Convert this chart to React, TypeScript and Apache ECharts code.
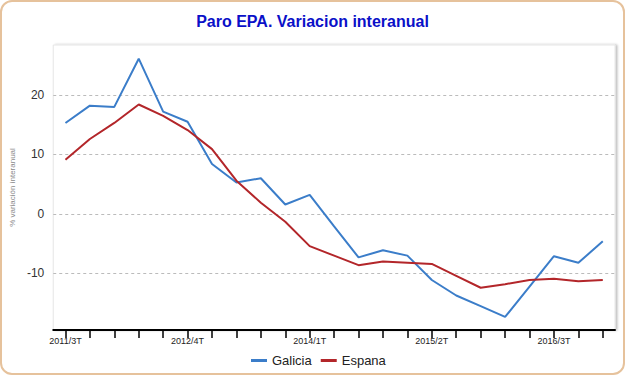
import React, { useEffect, useRef } from "react";
import * as echarts from "echarts";

const categories = [
  "2011/3T", "2011/4T", "2012/1T", "2012/2T", "2012/3T",
  "2012/4T", "2013/1T", "2013/2T", "2013/3T", "2013/4T",
  "2014/1T", "2014/2T", "2014/3T", "2014/4T", "2015/1T",
  "2015/2T", "2015/3T", "2015/4T", "2016/1T", "2016/2T",
  "2016/3T", "2016/4T", "2017/1T",
];

const galicia = [
  15.3, 18.2, 18.0, 26.1, 17.2, 15.5, 8.4, 5.3, 6.0, 1.6,
  3.2, -2.1, -7.3, -6.1, -7.0, -11.1, -13.7, -15.5, -17.3, -12.2,
  -7.1, -8.2, -4.6,
];

const espana = [
  9.1, 12.6, 15.3, 18.4, 16.5, 14.1, 10.9, 5.6, 1.9, -1.3,
  -5.4, -7.0, -8.6, -8.0, -8.2, -8.4, -10.4, -12.4, -11.8, -11.1,
  -10.9, -11.3, -11.1,
];

const seriesNames = ["Galicia", "Espana"];

export default function App() {
  const ref = useRef<HTMLDivElement>(null);

  useEffect(() => {
    if (!ref.current) return;
    const chart = echarts.init(ref.current, null, { renderer: "svg" });
    chart.setOption({
      animation: false,
      backgroundColor: "transparent",
      title: {
        text: "Paro EPA. Variacion interanual",
        left: "center",
        top: 8,
        textStyle: {
          color: "#0a10c8",
          fontSize: 16,
          fontWeight: "bold",
          fontFamily: "Liberation Sans, Arial, sans-serif",
        },
      },
      legend: {
        data: seriesNames,
        bottom: 3,
        left: 246,
        icon: "rect",
        itemWidth: 16,
        itemHeight: 3,
        itemGap: 9,
        textStyle: {
          fontSize: 13,
          color: "#222",
          fontFamily: "Liberation Sans, Arial, sans-serif",
        },
      },
      grid: {
        left: 52,
        right: 10,
        top: 45,
        bottom: 45,
        show: true,
        backgroundColor: "#fff",
        borderColor: "#e6e6e6",
        borderWidth: 1,
        shadowColor: "rgba(0,0,0,0.25)",
        shadowBlur: 2,
        shadowOffsetX: 2,
        shadowOffsetY: 0,
      },
      xAxis: {
        type: "category",
        data: categories,
        boundaryGap: true,
        axisLine: { show: true, onZero: false, lineStyle: { color: "#000", width: 2 } },
        axisTick: {
          show: true,
          alignWithLabel: true,
          interval: 0,
          length: 8,
          lineStyle: { color: "#000", width: 1.5 },
        },
        axisLabel: {
          interval: 4,
          fontSize: 9,
          color: "#222",
          margin: 6,
          fontFamily: "Liberation Sans, Arial, sans-serif",
        },
        splitLine: { show: false },
      },
      yAxis: {
        type: "value",
        min: -19.5,
        max: 28.4,
        splitNumber: 5,
        name: "% variación interanual",
        nameLocation: "middle",
        nameGap: 32,
        nameTextStyle: {
          fontSize: 8,
          color: "#8a8a8a",
          fontFamily: "Liberation Sans, Arial, sans-serif",
        },
        axisLine: { show: false },
        axisTick: { show: false },
        axisLabel: {
          fontSize: 12,
          color: "#333",
          margin: 9,
          fontFamily: "Liberation Sans, Arial, sans-serif",
          formatter: (v: number) =>
            Math.abs(v % 10) < 1e-6 ? String(v) : "",
        },
        splitLine: {
          show: true,
          lineStyle: {
            color: ["rgba(0,0,0,0)", "#bbb", "#bbb", "#bbb", "#bbb", "rgba(0,0,0,0)"],
            type: [3, 3],
            width: 1,
          },
        },
      },
      series: [
        {
          name: seriesNames[0],
          type: "line",
          data: galicia,
          symbol: "none",
          lineStyle: { color: "#3b7dc9", width: 2 },
          itemStyle: { color: "#3b7dc9" },
        },
        {
          name: seriesNames[1],
          type: "line",
          data: espana,
          symbol: "none",
          lineStyle: { color: "#b3262a", width: 2 },
          itemStyle: { color: "#b3262a" },
        },
      ],
    });
    return () => chart.dispose();
  }, []);

  return (
    <div
      style={{
        position: "fixed",
        left: 0,
        top: 0,
        width: 625,
        height: 375,
        boxSizing: "border-box",
        border: "2px solid #e6c29c",
        borderRadius: 12,
        background: "#fff",
        overflow: "hidden",
      }}
    >
      <div
        ref={ref}
        style={{ position: "absolute", left: -2, top: -2, width: 625, height: 375 }}
      />
    </div>
  );
}
